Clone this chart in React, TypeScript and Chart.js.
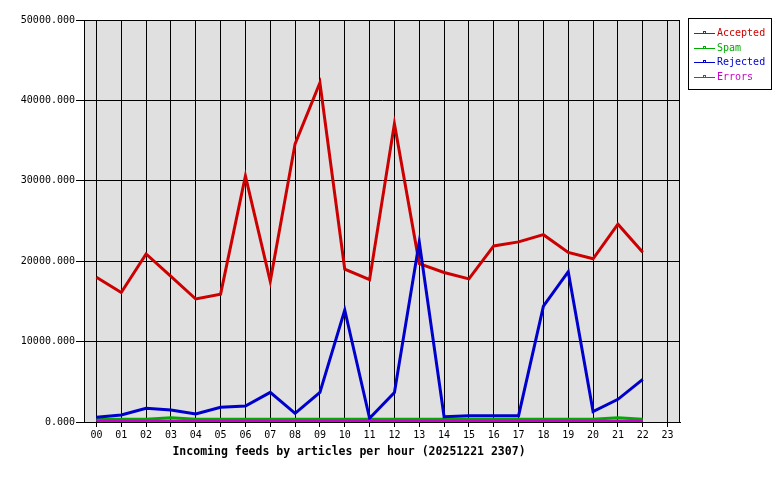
import React, { useEffect, useRef } from "react";
import { Chart, registerables } from "chart.js";

Chart.register(...registerables);

const hours = ["00","01","02","03","04","05","06","07","08","09","10","11","12","13","14","15","16","17","18","19","20","21","22","23"];
const accepted = [18000, 16100, 20900, 18100, 15300, 15900, 30600, 17500, 34600, 42200, 19000, 17700, 37100, 19700, 18600, 17800, 21900, 22400, 23300, 21100, 20300, 24600, 21100, null];
const spam = [300, 350, 350, 520, 350, 350, 350, 350, 350, 350, 350, 350, 350, 350, 350, 350, 350, 350, 350, 350, 350, 520, 350, null];
const rejected = [580, 870, 1700, 1490, 1000, 1830, 1990, 3690, 1080, 3690, 13930, 460, 3650, 22400, 660, 790, 790, 790, 14400, 18700, 1290, 2820, 5310, null];
const errors = [80, 80, 80, 80, 80, 80, 80, 80, 80, 80, 80, 80, 80, 80, 80, 80, 80, 80, 80, 80, 80, 80, 80, null];
const seriesNames = ["Accepted", "Spam", "Rejected", "Errors"];
const yMax = 50000;
const yStep = 10000;
const titleText = "Incoming feeds by articles per hour (20251221 2307)";

const colors = ["#cc0000", "#00aa00", "#0000cc", "#cc00cc"];
const FONT = "'DejaVu Sans Mono', 'Liberation Mono', monospace";

export default function App() {
  const ref = useRef<HTMLCanvasElement | null>(null);

  useEffect(() => {
    if (!ref.current) return;
    const series = [accepted, spam, rejected, errors];

    const framePlugin = {
      id: "frame",
      beforeDraw(chart: any) {
        const { ctx, chartArea: a } = chart;
        ctx.save();
        ctx.fillStyle = "#ffffff";
        ctx.fillRect(0, 0, chart.width, chart.height);
        ctx.fillStyle = "#e0e0e0";
        ctx.fillRect(a.left, a.top, a.right - a.left, a.bottom - a.top);
        ctx.restore();
      },
      afterDraw(chart: any) {
        const { ctx, chartArea: a } = chart;
        ctx.save();
        ctx.strokeStyle = "#000000";
        ctx.lineWidth = 1;
        ctx.strokeRect(Math.round(a.left) + 0.5, Math.round(a.top) + 0.5, Math.round(a.right - a.left) - 1, Math.round(a.bottom - a.top));
        // title
        ctx.fillStyle = "#000000";
        ctx.font = "bold 11.5px " + FONT;
        ctx.textAlign = "center";
        ctx.textBaseline = "middle";
        ctx.fillText(titleText, 349, 452);
        // legend
        ctx.strokeRect(688.5, 18.5, 83, 71);
        ctx.font = "10px " + FONT;
        ctx.textAlign = "left";
        seriesNames.forEach((name, i) => {
          const y = Math.round(33 + 14.67 * i) + 0.5;
          ctx.strokeStyle = colors[i];
          ctx.beginPath();
          ctx.moveTo(694, y);
          ctx.lineTo(715, y);
          ctx.stroke();
          ctx.strokeRect(703.5, y - 2, 2, 2);
          ctx.fillStyle = colors[i];
          ctx.fillText(name, 717, y);
        });
        ctx.restore();
      },
    };

    const chart = new Chart(ref.current, {
      type: "line",
      data: {
        labels: hours,
        datasets: series.map((d, i) => ({
          label: seriesNames[i],
          data: d,
          borderColor: colors[i],
          backgroundColor: colors[i],
          borderWidth: 3,
          pointRadius: 0,
          tension: 0,
          fill: false,
          order: 4 - i,
        })),
      },
      options: {
        animation: false,
        responsive: false,
        maintainAspectRatio: false,
        layout: { padding: { top: 20, right: 100, left: 0, bottom: 0 } },
        plugins: {
          legend: { display: false },
          title: { display: false },
          tooltip: { enabled: false },
        },
        scales: {
          x: {
            type: "category",
            offset: true,
            grid: { offset: false, color: "#000000", lineWidth: 1, tickLength: 5, drawTicks: true },
            border: { display: true, color: "#000000" },
            ticks: { color: "#000000", font: { family: FONT, size: 10 }, padding: 2, autoSkip: false, maxRotation: 0 },
            afterFit(scale: any) { scale.height = 58; },
          },
          y: {
            min: 0,
            max: yMax,
            grid: { color: "#000000", lineWidth: 1, tickLength: 8 },
            border: { display: true, color: "#000000" },
            ticks: {
              stepSize: yStep,
              color: "#000000",
              font: { family: FONT, size: 10 },
              padding: 1,
              callback: (v: any) => Number(v).toFixed(3),
            },
            afterFit(scale: any) { scale.width = 84; },
          },
        },
      },
      plugins: [framePlugin],
    });
    return () => chart.destroy();
  }, []);

  return (
    <div style={{ position: "absolute", left: 0, top: 0, width: 780, height: 480 }}>
      <canvas ref={ref} width={780} height={480} style={{ width: 780, height: 480, display: "block" }} />
    </div>
  );
}
